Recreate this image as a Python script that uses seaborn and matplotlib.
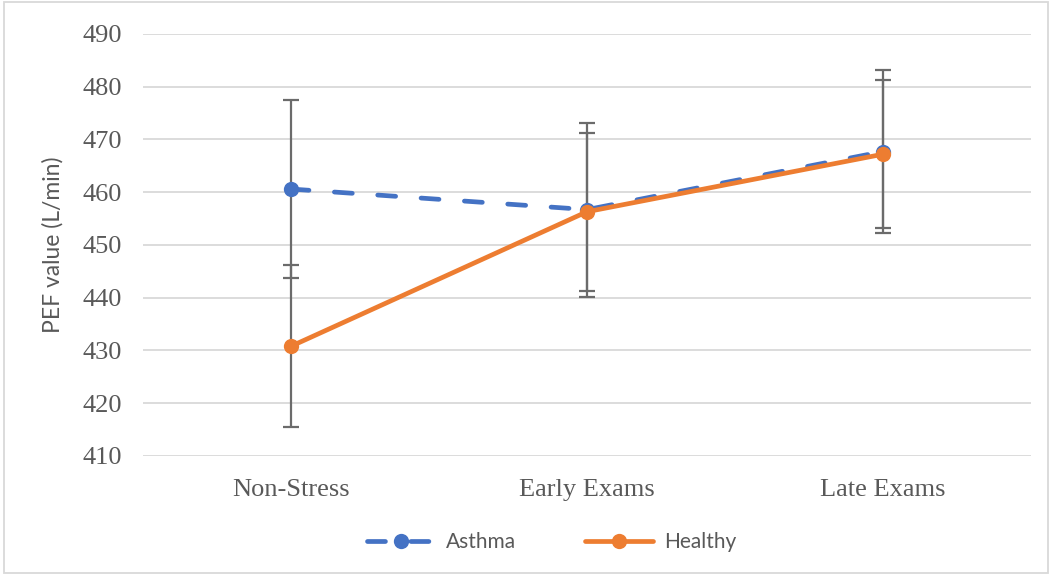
import matplotlib
matplotlib.use("Agg")
import matplotlib.pyplot as plt
from matplotlib.patches import Rectangle
import seaborn as sns
import pandas as pd

# PEF measurements across exam periods
periods = ["Non-Stress", "Early Exams", "Late Exams"]
asthma_mean = [460.6, 456.7, 467.7]
asthma_err = [16.9, 16.5, 15.5]
healthy_mean = [430.8, 456.3, 467.2]
healthy_err = [15.4, 15.0, 14.0]
groups = ["Asthma", "Healthy"]

colors = {"Asthma": "#4472C4", "Healthy": "#ED7D31"}
text_gray = "#595959"
lw = 3.4
dash = (3.8, 5.4)

df = pd.DataFrame({
    "period": periods * 2,
    "pef": asthma_mean + healthy_mean,
    "err": asthma_err + healthy_err,
    "group": [groups[0]] * 3 + [groups[1]] * 3,
})

sns.set_theme(style="white")
plt.rcParams["font.family"] = ["Liberation Serif", "DejaVu Serif"]

fig = plt.figure(figsize=(10.52, 5.75), dpi=100)
ax = fig.add_axes([0.136, 0.207, 0.844, 0.734])

# error bars sit underneath the lines and markers
for g in groups:
    sub = df[df["group"] == g]
    ax.errorbar(range(len(periods)), sub["pef"], yerr=sub["err"], fmt="none",
                ecolor="#6B6B6B", elinewidth=1.6, capsize=6, capthick=1.6, zorder=2)

sns.lineplot(data=df, x="period", y="pef", hue="group", style="group",
             palette=colors, dashes={"Asthma": dash, "Healthy": ""},
             markers={"Asthma": "o", "Healthy": "o"}, markersize=11,
             markeredgewidth=0, linewidth=lw, sort=False, ax=ax, zorder=3,
             legend=False, dash_capstyle="round", solid_capstyle="round")

ax.set_xlim(-0.5, len(periods) - 0.5)
ax.set_ylim(410, 490)
ax.set_yticks(range(410, 491, 10))
ax.set_xticks(range(len(periods)))
ax.set_xticklabels(periods)
ax.yaxis.grid(True, color="#D9D9D9", linewidth=1.3)
ax.set_axisbelow(True)
for s in ax.spines.values():
    s.set_visible(False)
ax.tick_params(axis="y", length=0, pad=15.5, labelsize=19, labelcolor=text_gray)
ax.tick_params(axis="x", length=0, pad=16.5, labelsize=19, labelcolor=text_gray)
ax.set_xlabel("")
ax.set_ylabel("PEF value (L/min)", fontsize=16.5, color=text_gray,
              family="Lato", labelpad=13)

# legend below the plot area
handles = [
    plt.Line2D([], [], color=colors["Asthma"], linewidth=lw, dashes=dash,
               dash_capstyle="round", marker="o", markersize=11, markeredgewidth=0),
    plt.Line2D([], [], color=colors["Healthy"], linewidth=lw, solid_capstyle="round",
               marker="o", markersize=11, markeredgewidth=0),
]
leg = fig.legend(handles, groups, loc="center", bbox_to_anchor=(0.524, 0.057),
                 ncol=2, frameon=False, handlelength=3.3, columnspacing=3.3,
                 handletextpad=0.5, prop={"family": "Lato", "size": 15})
for t in leg.get_texts():
    t.set_color(text_gray)

# light chart border
fig.patches.append(Rectangle((0.004, 0.004), 0.992, 0.992, transform=fig.transFigure,
                             fill=False, edgecolor="#D9D9D9", linewidth=1.3))

fig.savefig("out.png", dpi=100)
